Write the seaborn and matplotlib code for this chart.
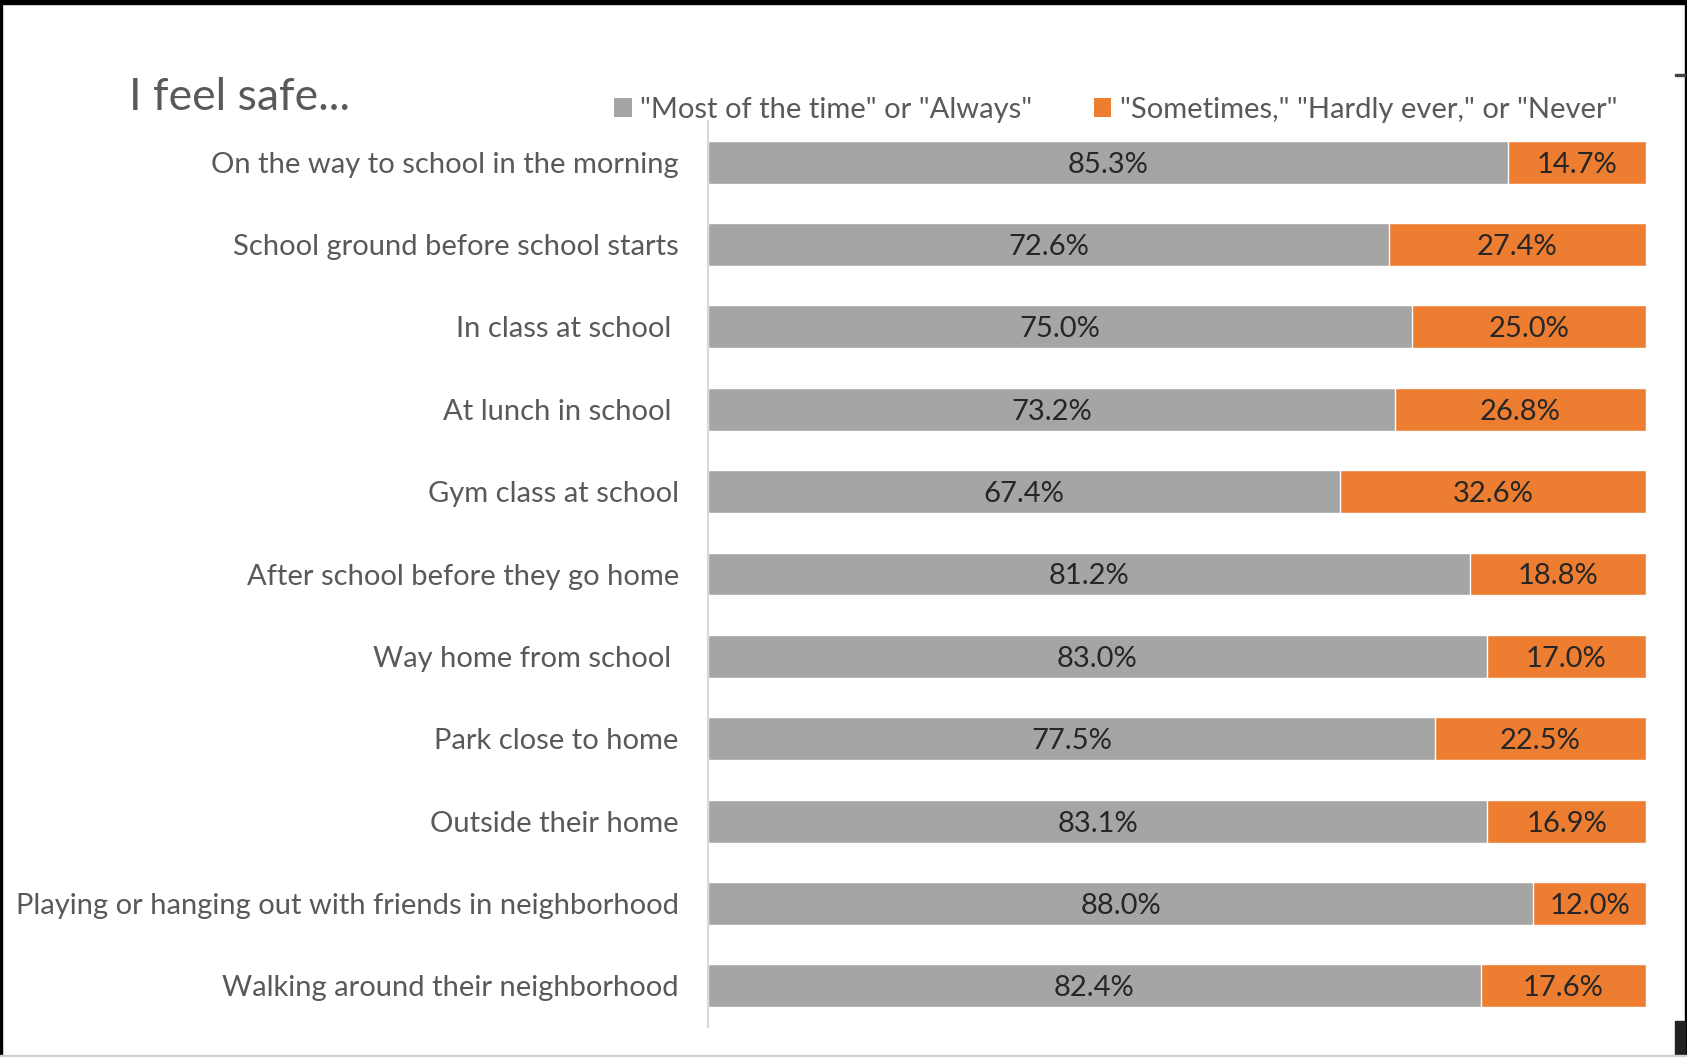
import matplotlib
matplotlib.use("Agg")
import matplotlib.pyplot as plt
import seaborn as sns
import pandas as pd
from matplotlib.patches import Patch, Rectangle

categories = [
    "On the way to school in the morning",
    "School ground before school starts",
    "In class at school ",
    "At lunch in school ",
    "Gym class at school",
    "After school before they go home",
    "Way home from school ",
    "Park close to home",
    "Outside their home",
    "Playing or hanging out with friends in neighborhood",
    "Walking around their neighborhood",
]
most_always = [85.3, 72.6, 75.0, 73.2, 67.4, 81.2, 83.0, 77.5, 83.1, 88.0, 82.4]
sometimes_never = [14.7, 27.4, 25.0, 26.8, 32.6, 18.8, 17.0, 22.5, 16.9, 12.0, 17.6]
series_names = ['"Most of the time" or "Always"', '"Sometimes," "Hardly ever," or "Never"']
title = "I feel safe..."

GRAY = "#A5A5A5"
ORANGE = "#ED7D31"
TEXT = "#595959"
VAL = "#262626"
FS = 21

sns.set_theme(style="white")
plt.rcParams["font.family"] = ["Lato", "DejaVu Sans"]

df = pd.DataFrame({
    "cat": categories,
    "most": most_always,
    "other": sometimes_never,
})
df["total"] = df["most"] + df["other"]

fig = plt.figure(figsize=(16.87, 10.57), dpi=100)
ax = fig.add_axes([708 / 1687, 1 - 1027 / 1057, (1646 - 708) / 1687, (1027 - 121) / 1057])

sns.barplot(data=df, x="total", y="cat", color=ORANGE, saturation=1, width=0.52, ax=ax, orient="h")
sns.barplot(data=df, x="most", y="cat", color=GRAY, saturation=1, width=0.52, ax=ax, orient="h")

# labels
gray_container = ax.containers[1]
texts = ax.bar_label(gray_container, labels=[f"{v:.1f}%" for v in most_always], label_type="center",
                     fontsize=FS, color=VAL)
for t in texts:
    t.set_verticalalignment("center_baseline")
for i, (m, o) in enumerate(zip(most_always, sometimes_never)):
    ax.text(m + o / 2, i, f"{o:.1f}%", ha="center", va="center_baseline", fontsize=FS, color=VAL)

ax.set_xlim(0, 100)
ax.set_ylim(len(categories) - 0.5, -0.5)
ax.set_xlabel("")
ax.set_ylabel("")
ax.set_xticks([])
ax.tick_params(axis="y", length=0, pad=21, labelsize=FS, labelcolor=TEXT)
for s in ["top", "right", "bottom"]:
    ax.spines[s].set_visible(False)
ax.spines["left"].set_color("#D9D9D9")
ax.spines["left"].set_linewidth(1.5)

fig.text(129 / 1687, 1 - 97 / 1057, title, ha="left", va="center", fontsize=32, color=TEXT)

handles = [Patch(facecolor=GRAY, edgecolor="none"), Patch(facecolor=ORANGE, edgecolor="none")]
fig.legend(handles, series_names, loc="center left", bbox_to_anchor=(614 / 1687, 1 - 110 / 1057),
           ncol=2, frameon=False, fontsize=FS, labelcolor=TEXT, handlelength=0.6, handleheight=0.6,
           handletextpad=0.3, columnspacing=2.1, borderpad=0, borderaxespad=0)

# frame decorations (screenshot borders)
fig.patches.append(Rectangle((0, 1 - 4 / 1057), 1, 4 / 1057, transform=fig.transFigure, color="black"))
fig.patches.append(Rectangle((0, 0), 2 / 1687, 1, transform=fig.transFigure, color="black"))
fig.patches.append(Rectangle((1 - 2 / 1687, 0), 2 / 1687, 1, transform=fig.transFigure, color="black"))
fig.patches.append(Rectangle((1675 / 1687, 2 / 1057), 10 / 1687, 34 / 1057, transform=fig.transFigure, color="#222222"))
fig.patches.append(Rectangle((1675 / 1687, 1 - 76 / 1057), 10 / 1687, 2 / 1057, transform=fig.transFigure, color="#444444"))
fig.patches.append(Rectangle((0, 0), 1, 2 / 1057, transform=fig.transFigure, color="#D0D0D0"))

fig.savefig("out.png", dpi=100)
